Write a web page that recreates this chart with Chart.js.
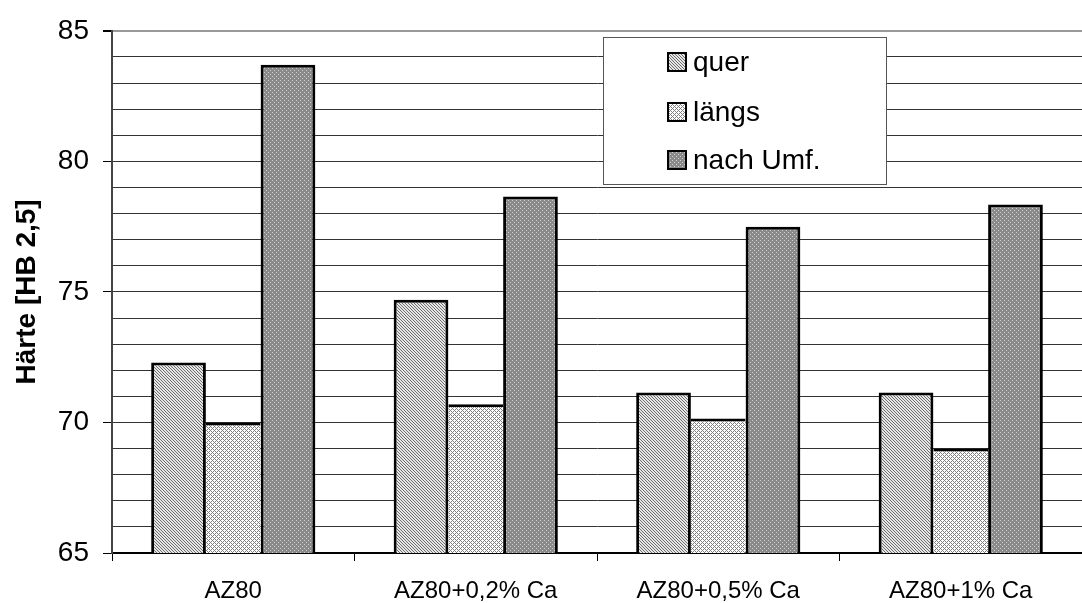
<!DOCTYPE html>
<html>
<head>
<meta charset="utf-8">
<script src="https://cdn.jsdelivr.net/npm/chart.js@4/dist/chart.umd.min.js"></script>
<style>
  html, body { margin: 0; padding: 0; background: #fff; overflow: hidden; }
  #wrap { width: 1082px; height: 603px; }
</style>
</head>
<body>
<div id="wrap"><canvas id="c" width="1082" height="603"></canvas></div>
<script>
// Werte
const categories = ['AZ80', 'AZ80+0,2% Ca', 'AZ80+0,5% Ca', 'AZ80+1% Ca'];
const seriesNames = ['quer', 'längs', 'nach Umf.'];
const quer = [72.3, 74.7, 71.15, 71.15];
const laengs = [70.0, 70.7, 70.15, 69.0];
const nachUmf = [83.7, 78.65, 77.5, 78.35];
const yMin = 65;
const yMax = 85;

// kleine Kachel-Muster wie im Excel-Original
function makePattern(type) {
  const t = document.createElement('canvas');
  const n = type === 'diag' ? 3 : 4;
  t.width = n; t.height = n;
  const g = t.getContext('2d');
  if (type === 'diag') {
    g.fillStyle = '#e6e6e6'; g.fillRect(0, 0, n, n);
    g.fillStyle = '#6e6e6e';
    for (let i = 0; i < n; i++) g.fillRect(i, i, 1, 1);
  } else if (type === 'cross') {
    g.fillStyle = '#ffffff'; g.fillRect(0, 0, n, n);
    g.fillStyle = '#808080';
    for (let x = 0; x < n; x++)
      for (let y = 0; y < n; y++)
        if ((x + y) % 4 === 0 || (x - y + 4) % 4 === 0) g.fillRect(x, y, 1, 1);
  } else {
    g.fillStyle = '#8a8a8a'; g.fillRect(0, 0, n, n);
    g.fillStyle = '#cfcfcf';
    g.fillRect(0, 0, 1, 1);
    g.fillRect(2, 2, 1, 1);
  }
  return g.createPattern(t, 'repeat');
}

const fills = [makePattern('diag'), makePattern('cross'), makePattern('dots')];
const values = [quer, laengs, nachUmf];
const borders = [
  { left: 3, right: 3, top: 3, bottom: 0 },
  { left: 0, right: 0, top: 3, bottom: 0 },
  { left: 3, right: 3, top: 3, bottom: 0 }
];

// Legende als Kasten im Diagramm
const boxLegend = {
  id: 'boxLegend',
  afterDraw(chart) {
    const ctx = chart.ctx;
    const x = 603, y = 37, w = 283, h = 147;
    ctx.save();
    ctx.fillStyle = '#fff';
    ctx.fillRect(x, y, w, h);
    ctx.strokeStyle = '#555';
    ctx.lineWidth = 1;
    ctx.strokeRect(x + 0.5, y + 0.5, w, h);
    const rows = [62, 112, 160];
    chart.data.datasets.forEach((ds, i) => {
      const sy = rows[i];
      ctx.fillStyle = ds.backgroundColor;
      ctx.fillRect(668, sy - 9, 18, 18);
      ctx.strokeStyle = '#000';
      ctx.lineWidth = 2;
      ctx.strokeRect(668, sy - 9, 18, 18);
      ctx.fillStyle = '#000';
      ctx.font = '28px "Liberation Sans", Arial, sans-serif';
      ctx.textBaseline = 'middle';
      ctx.fillText(ds.label, 693, sy + 1);
    });
    ctx.restore();
  }
};

new Chart(document.getElementById('c'), {
  type: 'bar',
  data: {
    labels: categories,
    datasets: seriesNames.map((name, i) => ({
      label: name,
      data: values[i],
      backgroundColor: fills[i],
      borderColor: '#000',
      borderWidth: borders[i],
      borderSkipped: false,
      barPercentage: 1.0,
      categoryPercentage: 0.677
    }))
  },
  options: {
    responsive: false,
    animation: false,
    layout: { padding: { top: 25, right: 0, left: 0, bottom: 0 } },
    plugins: { legend: { display: false }, tooltip: { enabled: false } },
    scales: {
      x: {
        afterFit: (s) => { s.height = 50; },
        grid: { drawOnChartArea: false, color: '#000', tickLength: 8, offset: true },
        border: { color: '#000', width: 2 },
        ticks: {
          color: '#000',
          padding: 16,
          maxRotation: 0,
          font: { family: '"Liberation Sans", Arial, sans-serif', size: 24 }
        }
      },
      y: {
        min: yMin,
        max: yMax,
        afterFit: (s) => { s.width = 112; },
        grid: {
          color: (c) => (c.tick && c.tick.value === yMax ? '#999' : '#333'),
          lineWidth: (c) => (c.tick && c.tick.value === yMax ? 2 : 1),
          tickColor: (c) => (c.tick && c.tick.value % 5 === 0 ? '#000' : 'rgba(0,0,0,0)'),
          tickLength: 9
        },
        border: { color: '#444', width: 2 },
        ticks: {
          stepSize: 1,
          autoSkip: false,
          color: '#000',
          padding: 14,
          font: { family: '"Liberation Sans", Arial, sans-serif', size: 28 },
          callback: (v) => (v % 5 === 0 ? v : '')
        },
        title: {
          display: true,
          text: 'Härte [HB 2,5]',
          color: '#000',
          padding: { top: 10, bottom: 0 },
          font: { family: '"Liberation Sans", Arial, sans-serif', size: 28, weight: 'bold' }
        }
      }
    }
  },
  plugins: [boxLegend]
});
</script>
</body>
</html>
